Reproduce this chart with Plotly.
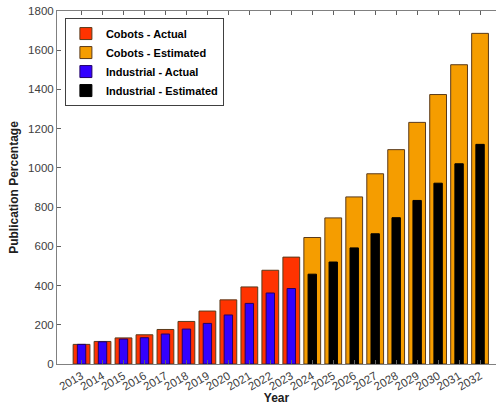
import plotly.graph_objects as go

years = list(range(2013, 2033))
actual_years = years[:11]
est_years = years[11:]

cobots_actual = [100, 115, 133, 149, 176, 217, 270, 327, 393, 478, 545]
cobots_est = [645, 745, 852, 970, 1093, 1232, 1374, 1526, 1686]
industrial_actual = [100, 113, 127, 134, 153, 178, 207, 250, 309, 362, 385]
industrial_est = [458, 520, 592, 664, 746, 834, 922, 1021, 1120]

tick_labels = [str(y) for y in years]

edge = dict(color="#5a3a1a", width=1)
fig = go.Figure()
fig.add_trace(go.Bar(x=actual_years, y=cobots_actual, name="Cobots - Actual",
                     marker=dict(color="#FF3300", line=edge), width=0.8))
fig.add_trace(go.Bar(x=est_years, y=cobots_est, name="Cobots - Estimated",
                     marker=dict(color="#F59D00", line=edge), width=0.8))
fig.add_trace(go.Bar(x=actual_years, y=industrial_actual, name="Industrial - Actual",
                     marker=dict(color="#3300FF", line=dict(color="#220066", width=1)), width=0.4))
fig.add_trace(go.Bar(x=est_years, y=industrial_est, name="Industrial - Estimated",
                     marker=dict(color="#000000", line=dict(color="#000000", width=1)), width=0.4))

fig.update_layout(
    width=496, height=405,
    margin=dict(l=57, r=0, t=11, b=41),
    barmode="overlay",
    plot_bgcolor="white", paper_bgcolor="white",
    font=dict(family="Liberation Sans, Arial, sans-serif", size=11, color="#404040"),
    legend=dict(x=0.018, y=0.98, xanchor="left", yanchor="top",
                bgcolor="white", bordercolor="#404040", borderwidth=1,
                font=dict(size=11, color="black", family="Liberation Sans, Arial, sans-serif", weight="bold"),
                tracegroupgap=0, itemwidth=30),
    showlegend=True,
)
fig.update_xaxes(
    range=[2011.83, 2032.76], tickmode="array", tickvals=years, ticktext=tick_labels,
    tickangle=-30, ticks="inside", ticklen=4, tickcolor="#606060",
    showline=True, linecolor="#808080", linewidth=1, mirror="ticks",
    showgrid=False, zeroline=False, ticklabeloverflow="allow",
    tickfont=dict(size=11.5, color="#404040"),
    title=dict(text="<b>Year</b>", font=dict(size=12, color="#202020"), standoff=2),
    automargin=False,
)
fig.update_yaxes(
    range=[0, 1800], dtick=200, ticks="inside", ticklen=4, tickcolor="#606060",
    showline=True, linecolor="#808080", linewidth=1,
    showgrid=False, zeroline=False, ticklabeloverflow="allow",
    tickfont=dict(size=11.5, color="#404040"),
    title=dict(text="<b>Publication Percentage</b>", font=dict(size=12, color="#202020"), standoff=6),
    automargin=False,
)
fig.write_html("out.html", config={"displayModeBar": False},
               post_script="document.body.style.margin='0px';")
